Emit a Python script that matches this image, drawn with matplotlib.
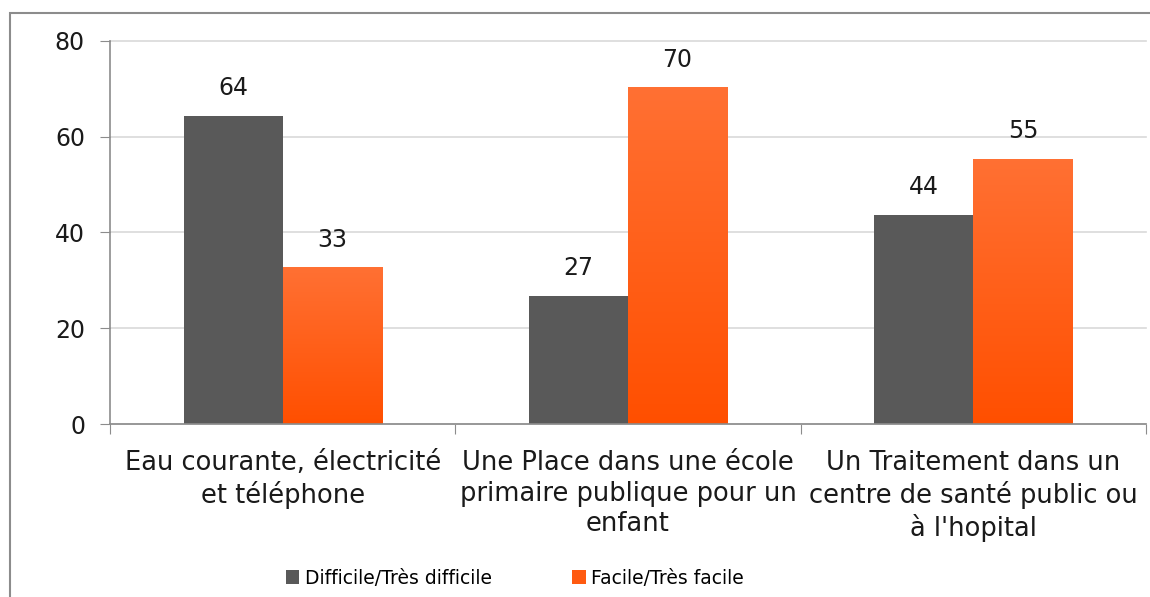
import numpy as np
from matplotlib import pyplot as plt
from matplotlib.patches import Rectangle

categories = ["Eau courante, électricité\net téléphone",
              "Une Place dans une école\nprimaire publique pour un\nenfant",
              "Un Traitement dans un\ncentre de santé public ou\nà l'hopital"]
series_names = ["Difficile/Très difficile", "Facile/Très facile"]
difficile = [64.4, 26.8, 43.6]
facile = [32.7, 70.3, 55.3]
y_ticks = [0, 20, 40, 60, 80]

plt.rcParams['font.family'] = ['DejaVu Sans']

fig = plt.figure(figsize=(11.5, 5.97), dpi=100)
fig.patch.set_facecolor("white")

# cadre extérieur (coupé à droite et en bas)
fig.add_artist(Rectangle((10 / 1150, -0.1), 1.2, 1.1 - 13 / 597, transform=fig.transFigure,
                         fill=False, edgecolor="#8c8c8c", linewidth=1.5))

ax = fig.add_axes([110 / 1150, 1 - 424 / 597, 1036 / 1150, 383 / 597])
ax.set_facecolor("none")

x = np.arange(len(categories))
width = 0.287
dark = "#595959"
orange = "#ff5a10"
orange_top = np.array([1.0, 0.44, 0.20])
orange_bot = np.array([1.0, 0.31, 0.0])

b1 = ax.bar(x - width / 2, difficile, width, color=dark, label=series_names[0], zorder=2)
b2 = ax.bar(x + width / 2, facile, width, color=orange, label=series_names[1], zorder=2)

# dégradé orange dans les barres
grad = np.linspace(0, 1, 256)[:, None, None]
img = orange_bot * (1 - grad) + orange_top * grad
for p in b2:
    p.set_facecolor("none")
    ax.imshow(img, extent=[p.get_x(), p.get_x() + p.get_width(), 0, p.get_height()],
              origin="lower", aspect="auto", zorder=2)

for bars, vals in [(b1, difficile), (b2, facile)]:
    for p, v in zip(bars, vals):
        ax.text(p.get_x() + p.get_width() / 2, p.get_height() + 3.3, "{:.0f}".format(v),
                ha="center", va="bottom", fontsize=17, color="#1a1a1a")

ax.set_xlim(-0.5, len(categories) - 0.5)
ax.set_ylim(0, 80)
ax.set_yticks(y_ticks)
ax.tick_params(axis="y", length=7, color="#8c8c8c", labelsize=17, pad=11, labelcolor="#1a1a1a")
ax.yaxis.grid(True, color="#d9d9d9", linewidth=1.2, zorder=0)
ax.set_axisbelow(True)
for gl in ax.get_ygridlines():
    gl.set_clip_on(False)

ax.set_xticks(np.arange(len(categories) + 1) - 0.5)
ax.set_xticklabels([])
ax.set_xticks(x, minor=True)
ax.set_xticklabels(categories, minor=True, fontsize=18.5, color="#1a1a1a", linespacing=1.22)
ax.tick_params(axis="x", which="major", length=7, color="#8c8c8c")
ax.tick_params(axis="x", which="minor", length=0, pad=19)

for s in ["top", "right"]:
    ax.spines[s].set_visible(False)
for s in ["left", "bottom"]:
    ax.spines[s].set_color("#8c8c8c")
    ax.spines[s].set_linewidth(1.2)

leg = fig.legend(handles=[b1, b2], loc="center left", bbox_to_anchor=(286 / 1150, 1 - 578 / 597),
                 ncol=2, frameon=False, fontsize=13.5, handlelength=0.7, handleheight=0.7,
                 handletextpad=0.3, columnspacing=4.3, borderpad=0, borderaxespad=0)
leg.legend_handles[1].set_facecolor(orange)

fig.savefig("out.png", dpi=100)
